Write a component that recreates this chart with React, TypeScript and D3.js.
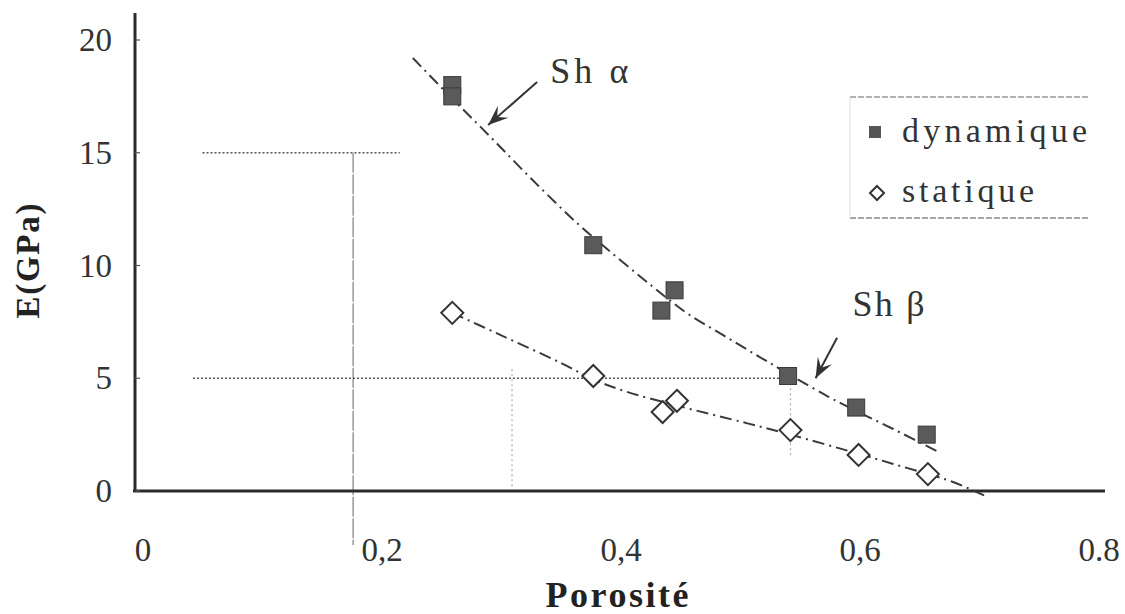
import React, { useEffect } from "react";
import * as d3 from "d3";

// ---- Data ----
const xTicks = [0, 0.2, 0.4, 0.6, 0.8];
const xTickLabels = ["0", "0,2", "0,4", "0,6", "0.8"];
const yTicks = [0, 5, 10, 15, 20];
const yTickLabels = ["0", "5", "10", "15", "20"];

// dynamique (filled squares)
const dynX = [0.263, 0.263, 0.381, 0.438, 0.449, 0.544, 0.601, 0.66];
const dynE = [18.0, 17.5, 10.9, 8.0, 8.9, 5.1, 3.7, 2.5];

// statique (open diamonds)
const statX = [0.263, 0.381, 0.439, 0.451, 0.546, 0.603, 0.661];
const statE = [7.9, 5.1, 3.5, 4.0, 2.7, 1.6, 0.75];

// trend curves (dash-dot)
const trendAX = [0.23, 0.263, 0.295, 0.33, 0.367, 0.4, 0.431, 0.459, 0.49, 0.52, 0.544, 0.577, 0.601, 0.632, 0.669];
const trendAE = [19.2, 17.4, 15.7, 13.8, 11.9, 10.4, 9.05, 7.9, 6.9, 5.95, 5.2, 4.2, 3.55, 2.75, 1.75];
const trendBX = [0.263, 0.3, 0.353, 0.381, 0.409, 0.45, 0.51, 0.546, 0.603, 0.632, 0.661, 0.682, 0.711];
const trendBE = [7.9, 7.0, 5.7, 4.95, 4.4, 3.8, 3.0, 2.5, 1.65, 1.2, 0.75, 0.4, -0.27];

// reading guide lines
const hGuideE = [15, 5];
const hGuideX0 = [0.054, 0.046];
const hGuideX1 = [0.219, 0.541];
const vGuideX = [0.18, 0.313, 0.546];
const vGuideE0 = [15, 5.4, 5];
const vGuideE1 = [-2.4, 0, 1.6];

// annotations
const annText = ["Sh α", "Sh β"];
const annTextX = [0.345, 0.598];
const annTextE = [18.1, 7.75];
const annFromX = [0.334, 0.585];
const annFromE = [18.14, 6.8];
const annToX = [0.293, 0.567];
const annToE = [16.23, 5.0];

const legendLabels = ["dynamique", "statique"];

const W = 1125;
const H = 614;
const FONT = "Liberation Serif, Times New Roman, serif";
const INK = "#333";

export default function App() {
  useEffect(() => {
    document.body.style.margin = "0";
  }, []);

  const x = d3.scaleLinear().domain([0, 0.8]).range([138, 1094]);
  const y = d3.scaleLinear().domain([0, 20]).range([491, 40]);

  const trendPath = (xs: number[], es: number[]) =>
    d3
      .line<[number, number]>()
      .x((d) => x(d[0]))
      .y((d) => y(d[1]))
      .curve(d3.curveCatmullRom)(xs.map((v, i) => [v, es[i]] as [number, number])) || "";

  const sq = 17;
  const diamondPath = (cx: number, cy: number, r: number) =>
    `M${cx},${cy - r}L${cx + r},${cy}L${cx},${cy + r}L${cx - r},${cy}Z`;

  const arrowHead = (x0: number, y0: number, x1: number, y1: number) => {
    const ang = Math.atan2(y1 - y0, x1 - x0);
    const L = 20;
    const Wd = 8;
    const bx = x1 - L * Math.cos(ang);
    const by = y1 - L * Math.sin(ang);
    const nx = x1 - L * 0.6 * Math.cos(ang);
    const ny = y1 - L * 0.6 * Math.sin(ang);
    const px = -Math.sin(ang);
    const py = Math.cos(ang);
    return `M${x1},${y1}L${bx + px * Wd},${by + py * Wd}L${nx},${ny}L${bx - px * Wd},${by - py * Wd}Z`;
  };

  return (
    <svg
      width={W}
      height={H}
      viewBox={`0 0 ${W} ${H}`}
      style={{ position: "absolute", left: 0, top: 0, background: "#fff" }}
    >
      <rect x={0} y={0} width={W} height={H} fill="#fff" />

      {/* guide lines */}
      {hGuideE.map((e, i) => (
        <line
          key={"hg" + i}
          x1={x(hGuideX0[i])}
          x2={x(hGuideX1[i])}
          y1={y(e)}
          y2={y(e)}
          stroke="#555"
          strokeWidth={1.6}
          strokeDasharray="2,2"
        />
      ))}
      {vGuideX.map((v, i) => (
        <line
          key={"vg" + i}
          x1={x(v)}
          x2={x(v)}
          y1={y(vGuideE0[i])}
          y2={y(vGuideE1[i])}
          stroke={i === 0 ? "#666" : "#aaa"}
          strokeWidth={i === 0 ? 1 : 1.2}
          strokeDasharray={i === 0 ? "20,1.5" : "2,3"}
        />
      ))}

      {/* axes */}
      <line x1={135} x2={135} y1={13} y2={y(0) + 1} stroke="#2b2b2b" strokeWidth={3} />
      <line x1={133} x2={1105} y1={y(0)} y2={y(0)} stroke="#2b2b2b" strokeWidth={3} />
      {yTicks.map((t, i) => (
        <g key={"yt" + i}>
          <line x1={135} x2={140} y1={y(t)} y2={y(t)} stroke="#555" strokeWidth={1.2} />
          <text
            x={112}
            y={y(t) + 11}
            textAnchor="end"
            fontFamily={FONT}
            fontSize={33}
            fill={INK}
          >
            {yTickLabels[i]}
          </text>
        </g>
      ))}
      {xTicks.map((t, i) => (
        <text
          key={"xt" + i}
          x={x(t) + 5}
          y={561}
          textAnchor="middle"
          fontFamily={FONT}
          fontSize={33}
          fill={INK}
        >
          {xTickLabels[i]}
        </text>
      ))}

      {/* axis titles */}
      <text
        x={617}
        y={607}
        textAnchor="middle"
        fontFamily={FONT}
        fontSize={36}
        fontWeight="bold"
        fill="#222"
        textLength={143}
        lengthAdjust="spacing"
      >
        Porosité
      </text>
      <text
        transform="translate(39,261) rotate(-90)"
        textAnchor="middle"
        fontFamily={FONT}
        fontSize={33}
        fontWeight="bold"
        fill="#222"
        textLength={115}
        lengthAdjust="spacing"
      >
        E(GPa)
      </text>

      {/* trend lines */}
      <path
        d={trendPath(trendAX, trendAE)}
        fill="none"
        stroke="#3a3a3a"
        strokeWidth={2}
        strokeDasharray="12,5,2,5"
      />
      <path
        d={trendPath(trendBX, trendBE)}
        fill="none"
        stroke="#3a3a3a"
        strokeWidth={2}
        strokeDasharray="12,5,2,5"
      />

      {/* markers */}
      {dynX.map((v, i) => (
        <rect
          key={"d" + i}
          x={x(v) - sq / 2}
          y={y(dynE[i]) - sq / 2}
          width={sq}
          height={sq}
          fill="#5a5a5a"
          stroke="#3a3a3a"
          strokeWidth={1}
        />
      ))}
      {statX.map((v, i) => (
        <path
          key={"s" + i}
          d={diamondPath(x(v), y(statE[i]), 11)}
          fill="#fff"
          stroke="#333"
          strokeWidth={2}
        />
      ))}

      {/* annotations */}
      {annText.map((t, i) => {
        const x0 = x(annFromX[i]);
        const y0 = y(annFromE[i]);
        const x1 = x(annToX[i]);
        const y1 = y(annToE[i]);
        return (
          <g key={"a" + i}>
            <line x1={x0} y1={y0} x2={x1} y2={y1} stroke="#333" strokeWidth={2} />
            <path d={arrowHead(x0, y0, x1, y1)} fill="#333" />
            <text
              x={x(annTextX[i])}
              y={y(annTextE[i])}
              fontFamily={FONT}
              fontSize={36}
              fill={INK}
              textLength={i === 0 ? 78 : 72}
              lengthAdjust="spacing"
            >
              {t}
            </text>
          </g>
        );
      })}

      {/* legend */}
      <g>
        <line x1={850} x2={1090} y1={97} y2={97} stroke="#999" strokeWidth={1.5} strokeDasharray="6,2" />
        <line x1={850} x2={1090} y1={218} y2={218} stroke="#888" strokeWidth={1.5} strokeDasharray="6,2" />
        <line x1={850} x2={850} y1={97} y2={218} stroke="#ddd" strokeWidth={1} />
        <rect x={869} y={126} width={12} height={12} fill="#555" />
        <text
          x={902}
          y={142}
          fontFamily={FONT}
          fontSize={34}
          fill={INK}
          textLength={185}
          lengthAdjust="spacing"
        >
          {legendLabels[0]}
        </text>
        <path d={diamondPath(877, 193, 7)} fill="#fff" stroke="#333" strokeWidth={2} />
        <text
          x={902}
          y={202}
          fontFamily={FONT}
          fontSize={34}
          fill={INK}
          textLength={132}
          lengthAdjust="spacing"
        >
          {legendLabels[1]}
        </text>
      </g>
    </svg>
  );
}
